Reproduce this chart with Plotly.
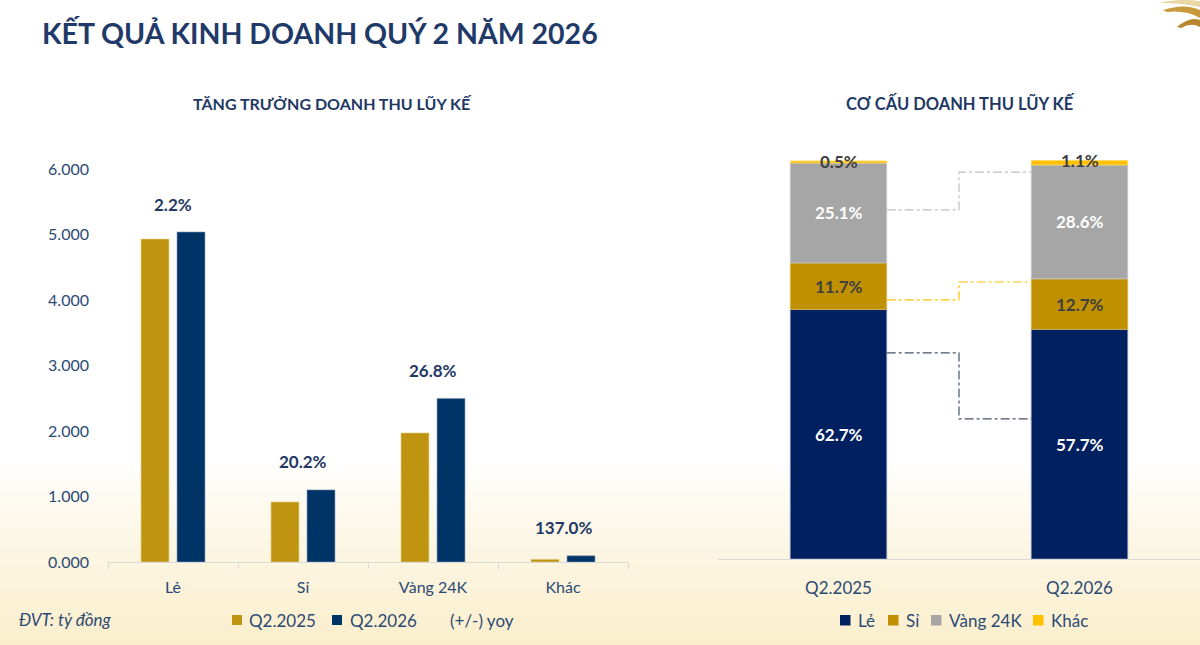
import plotly.graph_objects as go

W, H = 1200, 645

# ---------------- Data ----------------
# Left chart: cumulative revenue by segment (tỷ đồng)
categories = ["Lẻ", "Sỉ", "Vàng 24K", "Khác"]
rev_q2_2025 = [4930, 916, 1970, 40]
rev_q2_2026 = [5038, 1101, 2498, 95]
yoy_labels = ["2.2%", "20.2%", "26.8%", "137.0%"]
y_tickvals = [0, 1000, 2000, 3000, 4000, 5000, 6000]
y_ticktext = ["0.000", "1.000", "2.000", "3.000", "4.000", "5.000", "6.000"]

# Right chart: revenue structure (%)
periods = ["Q2.2025", "Q2.2026"]
share_le = [62.7, 57.7]
share_si = [11.7, 12.7]
share_vang = [25.1, 28.6]
share_khac = [0.5, 1.1]
share_labels = {
    "Lẻ": ["62.7%", "57.7%"],
    "Sỉ": ["11.7%", "12.7%"],
    "Vàng 24K": ["25.1%", "28.6%"],
    "Khác": ["0.5%", "1.1%"],
}
# connector levels (percent) between the two stacked bars
connector_from = [87.7, 65.1, 51.8]
connector_to = [97.2, 69.6, 35.2]
connector_colors = ["#BFBFBF", "#FFC000", "#44546A"]

# ---------------- Style ----------------
FONT = "Lato"
NAVY_TXT = "#1F3864"
AXIS_TXT = "#2B4A74"
GOLD_L = "#BF9410"
NAVY_L = "#003466"
C_LE = "#002060"
C_SI = "#BF9000"
C_VANG = "#A6A6A6"
C_KHAC = "#FFC000"


def px(x):
    return x / W


def py(y):
    return 1 - y / H


fig = go.Figure()
annotations = []
shapes = []

# ---------------- Left chart ----------------
left_series = [("Q2.2025", rev_q2_2025, GOLD_L, "#E6CF86", -0.246),
               ("Q2.2026", rev_q2_2026, NAVY_L, "#7F95B5", 0.031)]
for name, vals, col, lcol, off in left_series:
    fig.add_trace(go.Bar(
        x=categories, y=vals, name=name, width=0.215, offset=off,
        marker=dict(color=col, line=dict(color=lcol, width=0.6)),
        xaxis="x", yaxis="y", showlegend=False, hoverinfo="x+y+name",
    ))

for c, a, b, t in zip(categories, rev_q2_2025, rev_q2_2026, yoy_labels):
    annotations.append(dict(
        x=c, y=max(a, b), xref="x", yref="y", text=f"<b>{t}</b>",
        showarrow=False, yshift=28, yanchor="middle",
        font=dict(family=FONT, size=17, color=NAVY_TXT),
    ))

# ---------------- Right chart ----------------
series = [
    ("Lẻ", share_le, C_LE, "white", "#7F8FB8"),
    ("Sỉ", share_si, C_SI, "#404040", "#D8B860"),
    ("Vàng 24K", share_vang, C_VANG, "white", "#C8C8C8"),
    ("Khác", share_khac, C_KHAC, "#404040", "#FFD860"),
]
base = [0.0 for _ in periods]
for name, vals, col, tcol, lcol in series:
    fig.add_trace(go.Bar(
        x=list(range(len(periods))), y=vals, base=list(base), name=name,
        width=0.4, marker=dict(color=col, line=dict(color=lcol, width=0.8)),
        xaxis="x2", yaxis="y2", showlegend=False, hoverinfo="y+name",
    ))
    for i, v in enumerate(vals):
        if name == "Khác":
            yy = base[i] + v
        else:
            yy = base[i] + v / 2
        annotations.append(dict(
            x=i, y=yy, xref="x2", yref="y2",
            text=f"<b>{share_labels[name][i]}</b>", showarrow=False,
            yanchor="middle", font=dict(family=FONT, size=17, color=tcol),
        ))
    base = [b + v for b, v in zip(base, vals)]

# ---------------- Legends (drawn) ----------------
left_legend = [(232, left_series[0][0], GOLD_L),
               (332, left_series[1][0], NAVY_L),
               (None, "(+/-) yoy", None)]
left_legend_text_x = [247, 347.5, 448]
right_legend_x = [840, 888, 931, 1033]
right_legend_text_x = [856, 904, 947, 1049]
LEG_Y = 620
for (sx, label, col), tx in zip(left_legend, left_legend_text_x):
    if sx is not None:
        shapes.append(dict(type="rect", xref="paper", yref="paper",
                           x0=px(sx), x1=px(sx + 10), y0=py(LEG_Y + 5),
                           y1=py(LEG_Y - 5), line=dict(width=0),
                           fillcolor=col))
    annotations.append(dict(x=px(tx), y=py(LEG_Y), xref="paper",
                            yref="paper", xanchor="left", yanchor="middle",
                            showarrow=False, text=label,
                            font=dict(family=FONT, size=17, color=AXIS_TXT)))
for sx, tx, (name, _, col, _, _) in zip(right_legend_x, right_legend_text_x,
                                        series):
    shapes.append(dict(type="rect", xref="paper", yref="paper",
                       x0=px(sx), x1=px(sx + 10.5), y0=py(LEG_Y + 5.5),
                       y1=py(LEG_Y - 5), line=dict(width=0), fillcolor=col))
    annotations.append(dict(x=px(tx), y=py(LEG_Y), xref="paper",
                            yref="paper", xanchor="left", yanchor="middle",
                            showarrow=False, text=name,
                            font=dict(family=FONT, size=17, color=AXIS_TXT)))

# ---------------- Shapes ----------------
# background gradient at bottom
y_start, y_end = 465, 645
n = 36
top_rgb = (255, 255, 255)
bot_rgb = (250, 238, 204)
for k in range(n):
    t = ((k + 0.5) / n) ** 0.8
    r = round(top_rgb[0] + (bot_rgb[0] - top_rgb[0]) * t)
    g = round(top_rgb[1] + (bot_rgb[1] - top_rgb[1]) * t)
    b = round(top_rgb[2] + (bot_rgb[2] - top_rgb[2]) * t)
    y0 = y_start + (y_end - y_start) * k / n
    y1 = y_start + (y_end - y_start) * (k + 1) / n + 0.6
    shapes.append(dict(
        type="rect", xref="paper", yref="paper", x0=0, x1=1,
        y0=py(y1), y1=py(y0), line=dict(width=0),
        fillcolor=f"rgb({r},{g},{b})", layer="below",
    ))

# connectors (dash-dot step lines)
for yf, yt, col in zip(connector_from, connector_to, connector_colors):
    shapes.append(dict(
        type="path", xref="x2", yref="y2",
        path=f"M 0.2 {yf} L 0.5 {yf} L 0.5 {yt} L 0.8 {yt}",
        line=dict(color=col, width=1.2, dash="dashdot"),
    ))

# decorative logo (top-right gold fan of curved blades)
logo_blades = [
    ([("M", 1158, 3), ("Q", 1180, -2, 1200, 1), ("L", 1200, 7),
      ("Q", 1182, 3, 1158, 3)], "#EAD7A6"),
    ([("M", 1163, 10), ("Q", 1185, 3, 1200, 10), ("L", 1200, 18),
      ("Q", 1186, 10, 1167, 12)], "#C99A3C"),
    ([("M", 1177, 27), ("Q", 1190, 16, 1200, 20), ("L", 1200, 27),
      ("Q", 1191, 22, 1181, 28)], "#B8862E"),
]
for segs, col in logo_blades:
    parts = []
    for s in segs:
        cmd, vals = s[0], s[1:]
        coords = []
        for j in range(0, len(vals), 2):
            coords.append(f"{px(vals[j])} {py(vals[j + 1])}")
        parts.append(cmd + " " + " ".join(coords))
    shapes.append(dict(
        type="path", xref="paper", yref="paper",
        path=" ".join(parts) + " Z", line=dict(width=0), fillcolor=col,
    ))

# ---------------- Texts ----------------
annotations += [
    dict(x=px(40), y=py(33), xref="paper", yref="paper", xanchor="left",
         yanchor="middle", showarrow=False,
         text="<b>KẾT QUẢ KINH DOANH QUÝ 2 NĂM 2026</b>",
         font=dict(family=FONT, size=28.5, color="#1F3A68")),
    dict(x=px(332), y=py(103), xref="paper", yref="paper", xanchor="center",
         yanchor="middle", showarrow=False,
         text="<b>TĂNG TRƯỞNG DOANH THU LŨY KẾ</b>",
         font=dict(family=FONT, size=16, color=NAVY_TXT)),
    dict(x=px(960), y=py(103), xref="paper", yref="paper", xanchor="center",
         yanchor="middle", showarrow=False,
         text="<b>CƠ CẤU DOANH THU LŨY KẾ</b>",
         font=dict(family=FONT, size=16.5, color=NAVY_TXT)),
    dict(x=px(17), y=py(619), xref="paper", yref="paper", xanchor="left",
         yanchor="middle", showarrow=False, text="<i>ĐVT: tỷ đồng</i>",
         font=dict(family=FONT, size=17, color=AXIS_TXT)),
]

Y2_MAX = 101

fig.update_layout(
    width=W, height=H,
    margin=dict(l=0, r=0, t=0, b=0, autoexpand=False),
    paper_bgcolor="white", plot_bgcolor="rgba(0,0,0,0)",
    barmode="overlay", showlegend=False,
    font=dict(family=FONT, size=16, color=AXIS_TXT),
    xaxis=dict(
        domain=[px(108), px(628)], type="category", categoryorder="array",
        categoryarray=categories, range=[-0.5, 3.5],
        showline=True, linecolor="#D9D9D9", linewidth=1,
        ticks="outside", tickson="boundaries", ticklen=6, tickcolor="#D9D9D9",
        ticklabelstandoff=11, showgrid=False, zeroline=False, automargin=False,
        tickfont=dict(family=FONT, size=16, color=AXIS_TXT), anchor="y",
    ),
    yaxis=dict(
        domain=[py(562), py(169)], range=[0, 6000],
        tickvals=y_tickvals, ticktext=y_ticktext, showgrid=False,
        zeroline=False, showline=False, ticks="", ticklabelstandoff=18,
        automargin=False,
        tickfont=dict(family=FONT, size=16, color=AXIS_TXT), anchor="x",
    ),
    xaxis2=dict(
        domain=[px(718), px(1200)], range=[-0.5, 1.5],
        tickvals=list(range(len(periods))), ticktext=periods,
        showline=True, linecolor="#D9D9D9", linewidth=1, ticks="",
        ticklabelstandoff=14, showgrid=False, zeroline=False, automargin=False,
        tickfont=dict(family=FONT, size=17, color=AXIS_TXT), anchor="y2",
    ),
    yaxis2=dict(
        domain=[py(559), py(559 - 3.98 * Y2_MAX)], range=[0, Y2_MAX],
        visible=False, anchor="x2",
    ),
    shapes=shapes,
    annotations=annotations,
)

fig.write_html("out.html")
